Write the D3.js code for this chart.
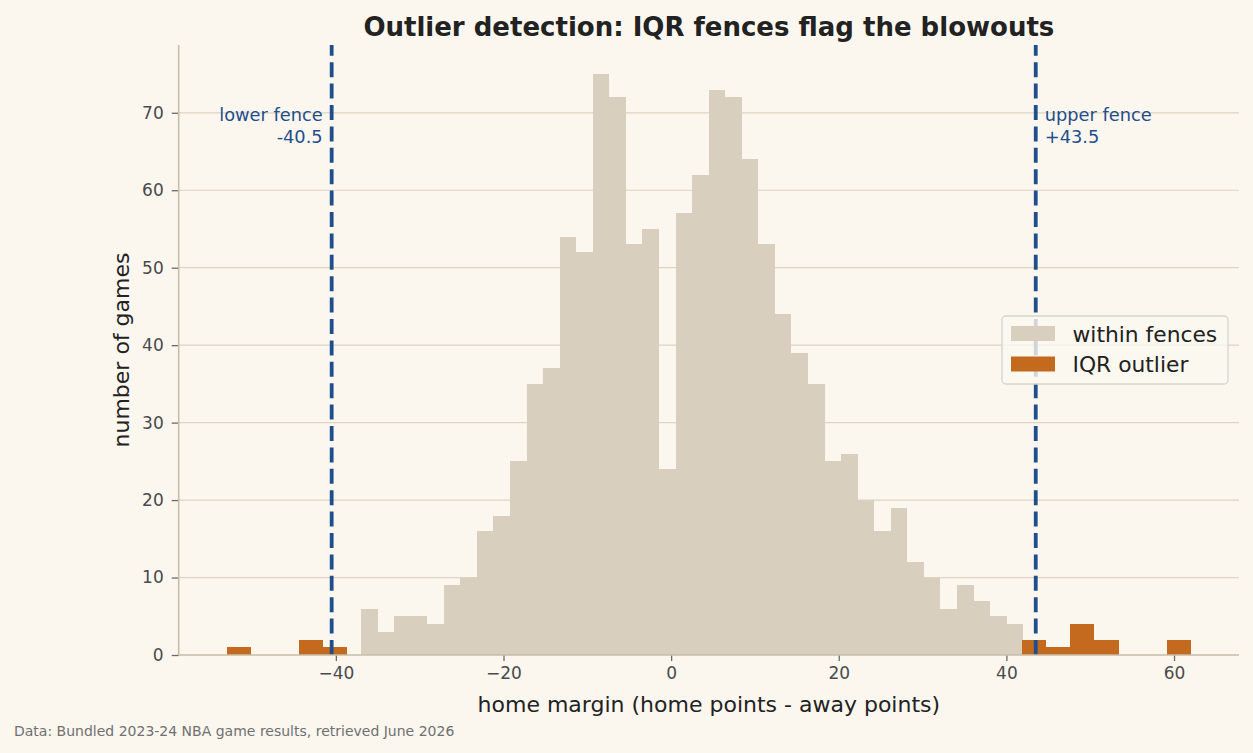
<!DOCTYPE html>
<html>
<head>
<meta charset="utf-8">
<script src="https://cdn.jsdelivr.net/npm/d3@7"></script>
<style>
  html, body { margin: 0; padding: 0; background: #fbf7ef; }
  svg { display: block; font-family: "DejaVu Sans", sans-serif; }
</style>
</head>
<body>
<svg id="chart" width="1253" height="753"></svg>
<script>
// ---- data ----
const withinCounts = [6,3,5,5,4,9,10,16,18,25,35,37,54,52,75,72,53,55,24,57,62,73,72,64,53,44,39,35,25,26,20,16,19,12,10,6,9,7,5,4];
const withinRange = [-37, 42];
const outlierCounts = [1,0,0,2,1, 0,0,0,0,0,0,0,0,0,0,0,0,0,0,0,0,0,0,0,0,0,0,0,0,0,0,0,0, 2,1,4,2,0,0,2];
const outlierRange = [-53, 62];
const fenceValues = [-40.5, 43.5];
const fenceLabels = [["lower fence", "-40.5"], ["upper fence", "+43.5"]];
const xTicks = [-40, -20, 0, 20, 40, 60];
const yTicks = [0, 10, 20, 30, 40, 50, 60, 70];
const legendLabels = ["within fences", "IQR outlier"];
const titleText = "Outlier detection: IQR fences flag the blowouts";
const xLabelText = "home margin (home points - away points)";
const yLabelText = "number of games";
const sourceText = "Data: Bundled 2023-24 NBA game results, retrieved June 2026";

// ---- layout ----
const C = {
  bg: "#fbf7ef", within: "#d9cfbe", outlier: "#c46a1f", fence: "#1f4e8c",
  grid: "#ddd4c2", spine: "#c9bda8", tick: "#6b6b6b", tickText: "#4a4a4a", text: "#222222"
};
const L = 178.7, R = 1239, T = 45, B = 655;

function bins(counts, range) {
  const n = counts.length, w = (range[1] - range[0]) / n;
  return counts.map((c, i) => ({ x0: range[0] + i * w, x1: range[0] + (i + 1) * w, c }));
}
const withinBins = bins(withinCounts, withinRange);
const outlierBins = bins(outlierCounts, outlierRange);

const lo = outlierRange[0], hi = outlierRange[1], pad = (hi - lo) * 0.05;
const x = d3.scaleLinear().domain([lo - pad, hi + pad]).range([L, R]);
const yMax = d3.max(withinCounts.concat(outlierCounts)) * 1.05;
const y = d3.scaleLinear().domain([0, yMax]).range([B, T]);

const svg = d3.select("#chart");
svg.append("rect").attr("width", 1253).attr("height", 753).attr("fill", C.bg);

// grid
svg.append("g").selectAll("line").data(yTicks.filter(d => d > 0)).join("line")
  .attr("x1", L).attr("x2", R).attr("y1", d => y(d)).attr("y2", d => y(d))
  .attr("stroke", C.grid).attr("stroke-width", 1.2);

// bars
svg.append("g").selectAll("rect").data(withinBins.filter(d => d.c > 0)).join("rect")
  .attr("x", d => x(d.x0)).attr("width", d => x(d.x1) - x(d.x0))
  .attr("y", d => y(d.c)).attr("height", d => y(0) - y(d.c))
  .attr("fill", C.within).attr("shape-rendering", "crispEdges");
svg.append("g").selectAll("rect").data(outlierBins.filter(d => d.c > 0)).join("rect")
  .attr("x", d => x(d.x0)).attr("width", d => x(d.x1) - x(d.x0))
  .attr("y", d => y(d.c)).attr("height", d => y(0) - y(d.c))
  .attr("fill", C.outlier).attr("shape-rendering", "crispEdges");

// fences
svg.append("g").selectAll("line").data(fenceValues).join("line")
  .attr("x1", d => x(d)).attr("x2", d => x(d)).attr("y1", B).attr("y2", T)
  .attr("stroke", C.fence).attr("stroke-width", 3.8).attr("stroke-dasharray", "15,6.4");

fenceValues.forEach((v, i) => {
  const left = i === 0;
  const t = svg.append("text")
    .attr("x", x(v) + (left ? -9 : 9)).attr("y", 121)
    .attr("text-anchor", left ? "end" : "start")
    .attr("fill", C.fence).attr("font-size", 17.8);
  fenceLabels[i].forEach((s, j) => {
    t.append("tspan").attr("x", x(v) + (left ? -9 : 9)).attr("dy", j ? 21.5 : 0).text(s);
  });
});

// axes
const xAxis = svg.append("g").attr("transform", `translate(0,${B})`)
  .call(d3.axisBottom(x).tickValues(xTicks).tickSize(6).tickPadding(6)
    .tickFormat(d => d < 0 ? "\u2212" + Math.abs(d) : d));
const yAxis = svg.append("g").attr("transform", `translate(${L},0)`)
  .call(d3.axisLeft(y).tickValues(yTicks).tickSize(7).tickPadding(8));
[xAxis, yAxis].forEach(a => {
  a.select(".domain").remove();
  a.selectAll(".tick line").attr("stroke", C.tick).attr("stroke-width", 1.3);
  a.selectAll(".tick text").attr("fill", C.tickText).attr("font-size", 17)
    .attr("font-family", "DejaVu Sans");
});
yAxis.selectAll(".tick text").attr("x", -15);
// spines
svg.append("line").attr("x1", L).attr("x2", L).attr("y1", T).attr("y2", B)
  .attr("stroke", C.spine).attr("stroke-width", 1.6);
svg.append("line").attr("x1", L).attr("x2", R).attr("y1", B).attr("y2", B)
  .attr("stroke", C.spine).attr("stroke-width", 1.6);

// labels
svg.append("text").attr("x", (L + R) / 2).attr("y", 35.5).attr("text-anchor", "middle")
  .attr("font-size", 26).attr("font-weight", "bold").attr("fill", C.text).text(titleText);
svg.append("text").attr("x", (L + R) / 2).attr("y", 712).attr("text-anchor", "middle")
  .attr("font-size", 22).attr("fill", C.text).text(xLabelText);
svg.append("text").attr("transform", `translate(129,${(T + B) / 2}) rotate(-90)`)
  .attr("text-anchor", "middle").attr("font-size", 22).attr("fill", C.text).text(yLabelText);
svg.append("text").attr("x", 14).attr("y", 736).attr("font-size", 14)
  .attr("fill", "#707070").text(sourceText);

// legend
const lg = svg.append("g").attr("transform", "translate(1002,316)");
lg.append("rect").attr("width", 226).attr("height", 68).attr("rx", 4)
  .attr("fill", C.bg).attr("fill-opacity", 0.8).attr("stroke", "#d6d3cc").attr("stroke-width", 1.3);
[C.within, C.outlier].forEach((col, i) => {
  lg.append("rect").attr("x", 9).attr("y", 10 + i * 30.5).attr("width", 44).attr("height", 15).attr("fill", col);
  lg.append("text").attr("x", 70.5).attr("y", 25.5 + i * 30.5).attr("font-size", 21.8)
    .attr("fill", C.text).text(legendLabels[i]);
});
</script>
</body>
</html>
